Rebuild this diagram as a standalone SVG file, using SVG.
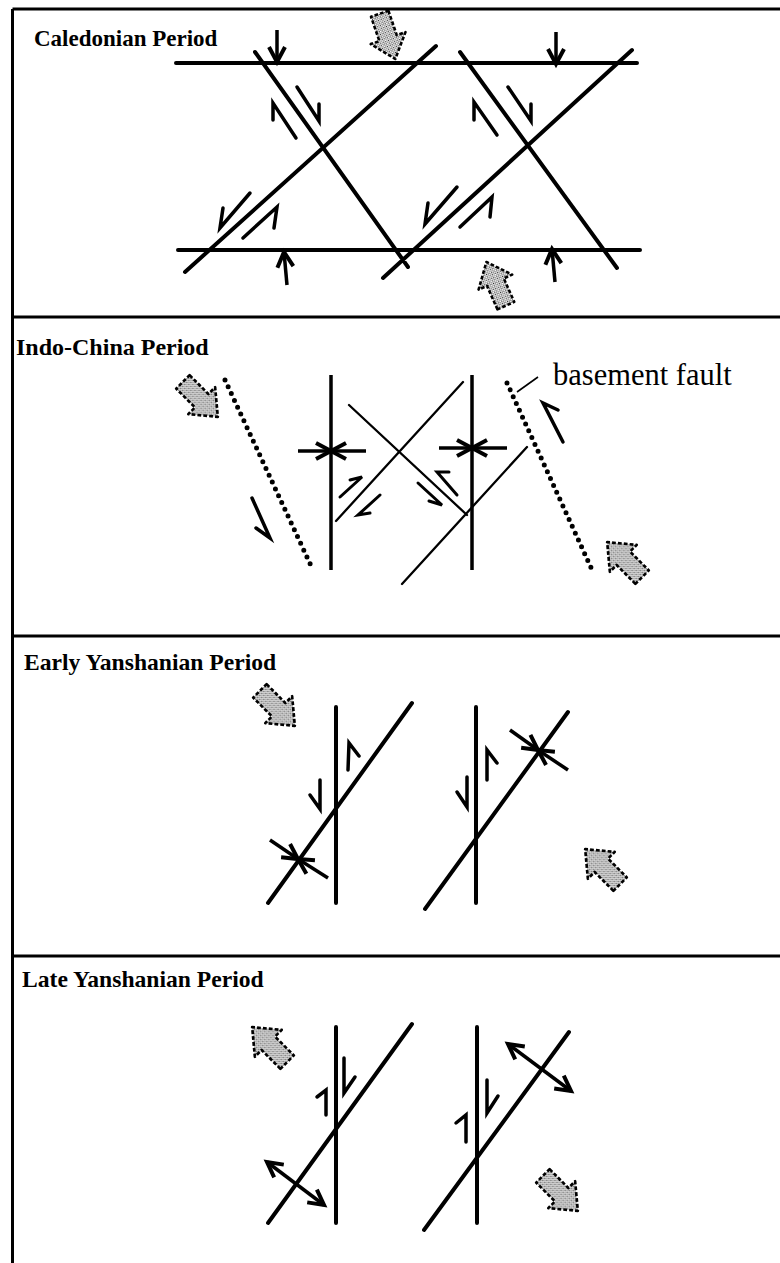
<svg xmlns="http://www.w3.org/2000/svg" xmlns:xlink="http://www.w3.org/1999/xlink" width="780" height="1263" viewBox="0 0 780 1263">
<style>
.frame{stroke:#000;stroke-width:3;fill:none}
.title{font-family:"Liberation Serif","Times New Roman",serif;font-weight:bold;font-size:23.6px;fill:#000}
.label{font-family:"Liberation Serif","Times New Roman",serif;font-size:30.5px;fill:#000}
.fault{stroke:#000;stroke-width:4;fill:none;stroke-linecap:round}
.vfault{stroke:#000;stroke-width:3.5;fill:none}
.thin{stroke:#000;stroke-width:2.3;fill:none;stroke-linecap:round}
.dotted{stroke:#000;stroke-width:5;fill:none;stroke-linecap:round;stroke-dasharray:0 7.5}
.half{stroke:#000;stroke-width:3.5;fill:none;stroke-linecap:round;stroke-linejoin:miter}
.comp{stroke:#000;stroke-width:3.5;fill:none;marker-end:url(#ah)}
.ext{stroke:#000;stroke-width:3.5;fill:none;marker-end:url(#ah);marker-start:url(#ah)}
.stip{fill:url(#dots);stroke:#000;stroke-width:2.8;stroke-dasharray:4 2.2;stroke-linejoin:round}
.leader{stroke:#000;stroke-width:1.6;fill:none}
</style>
<defs>
<pattern id="dots" width="3" height="3" patternUnits="userSpaceOnUse">
<rect width="3" height="3" fill="#fff"/>
<rect x="0" y="0" width="1.2" height="1.2" fill="#222"/>
<rect x="1.5" y="1.5" width="1.2" height="1.2" fill="#222"/>
</pattern>
<marker id="ah" markerUnits="userSpaceOnUse" markerWidth="30" markerHeight="30" viewBox="-20 -15 30 30" refX="0" refY="0" orient="auto-start-reverse" overflow="visible">
<path d="M-15,-8 L0,0 L-15,8" fill="none" stroke="#000" stroke-width="4"/>
</marker>
<path id="sa" d="M-21,-10 L7,-10 L7,-20 L31,0 L7,20 L7,10 L-21,10 Z"/>
</defs>
<rect width="780" height="1263" fill="#fff"/>

<g id="frame">
<path class="frame" d="M12.5,9 L780,9 M12.5,9 L12.5,1263 M12.5,317 L780,317 M12.5,636 L780,636 M12.5,956 L780,956"/>
</g>

<g id="panel-caledonian">
<text class="title" x="34" y="46" style="font-size:23px">Caledonian Period</text>
<g id="cal-faults">
<path class="fault" d="M176,63 L637,63 M178,250 L640,250 M255,52 L408,267 M436,46 L185,272 M460,52 L617,268 M632,50 L383,278"/>
</g>
<g id="cal-shear">
<path class="half" d="M297,87 L319,121 L319,104"/>
<path class="half" d="M296,138 L273,103 L273,120"/>
<path class="half" d="M508,87 L531,121 L531,104"/>
<path class="half" d="M497,135 L474,102 L474,120"/>
<path class="half" d="M250,193 L220,228 L223,208"/>
<path class="half" d="M243,238 L277,207 L274,228"/>
<path class="half" d="M457,187 L425,224 L428,203"/>
<path class="half" d="M460,227 L492,197 L490,217"/>
</g>
<g id="cal-compression">
<path class="comp" d="M277,30 L277,62"/>
<path class="comp" d="M556,32 L556,64"/>
<path class="comp" d="M287,285 L284,252"/>
<path class="comp" d="M555,282 L552,249"/>
</g>
<g id="cal-stress">
<use xlink:href="#sa" href="#sa" class="stip" transform="translate(386,32) rotate(71) scale(0.92)"/>
<use xlink:href="#sa" href="#sa" class="stip" transform="translate(498,288) rotate(-114) scale(0.92)"/>
</g>
</g>

<g id="panel-indochina">
<text class="title" x="16" y="355" style="font-size:24px">Indo-China Period</text>
<g id="ic-basement">
<path class="dotted" d="M225,380 L313,570 M507,383 L593,572"/>
<path class="leader" d="M517,392 L538,377"/>
<text class="label" x="553" y="385">basement fault</text>
<path class="half" d="M252,498 L270,538 L256,528"/>
<path class="half" d="M563,442 L543,403 L558,410"/>
</g>
<g id="ic-faults">
<path class="vfault" d="M331,375 L331,570 M472,375 L472,570"/>
<path class="thin" d="M349,405 L467,515 M463,382 L336,521 M527,447 L402,584"/>
</g>
<g id="ic-shear">
<path class="half" style="stroke-width:3" d="M340,497 L362,477 L350,480"/>
<path class="half" style="stroke-width:3" d="M380,495 L358,515 L370,513"/>
<path class="half" style="stroke-width:3" d="M457,495 L437,472 L449,472"/>
<path class="half" style="stroke-width:3" d="M418,483 L442,505 L429,501"/>
</g>
<g id="ic-compression">
<path class="comp" d="M298,451 L331,451"/>
<path class="comp" d="M366,451 L331,451"/>
<path class="comp" d="M439,448 L472,448"/>
<path class="comp" d="M507,448 L472,448"/>
</g>
<g id="ic-stress">
<use xlink:href="#sa" href="#sa" class="stip" transform="translate(197,396) rotate(45) scale(0.95)"/>
<use xlink:href="#sa" href="#sa" class="stip" transform="translate(628,563) rotate(-135) scale(0.95)"/>
</g>
</g>

<g id="panel-early-yanshanian">
<text class="title" x="24" y="670">Early Yanshanian Period</text>
<g id="ey-faults">
<path class="fault" d="M336,707 L336,903 M412,703 L268,903 M476,707 L476,903 M568,712 L425,909"/>
</g>
<g id="ey-shear">
<path class="half" d="M348,770 L349,743 L359,756"/>
<path class="half" d="M320,780 L320,809 L310,795"/>
<path class="half" d="M487,780 L487,750 L497,763"/>
<path class="half" d="M467,777 L467,807 L457,792"/>
</g>
<g id="ey-compression">
<path class="comp" d="M270,840 L298,859"/>
<path class="comp" d="M328,878 L298,859"/>
<path class="comp" d="M510,730 L538,750"/>
<path class="comp" d="M568,770 L538,750"/>
</g>
<g id="ey-stress">
<use xlink:href="#sa" href="#sa" class="stip" transform="translate(274,705) rotate(45) scale(0.95)"/>
<use xlink:href="#sa" href="#sa" class="stip" transform="translate(606,870) rotate(-135) scale(0.95)"/>
</g>
</g>

<g id="panel-late-yanshanian">
<text class="title" x="22" y="987">Late Yanshanian Period</text>
<g id="ly-faults">
<path class="fault" d="M336,1027 L336,1223 M412,1024 L268,1223 M477,1027 L477,1223 M569,1032 L424,1230"/>
</g>
<g id="ly-shear">
<path class="half" d="M326,1115 L326,1090 L317,1097"/>
<path class="half" d="M344,1058 L344,1093 L355,1077"/>
<path class="half" d="M466,1142 L466,1115 L456,1123"/>
<path class="half" d="M487,1080 L487,1113 L498,1096"/>
</g>
<g id="ly-extension">
<path class="ext" d="M267,1162 L324,1205"/>
<path class="ext" d="M508,1044 L571,1091"/>
</g>
<g id="ly-stress">
<use xlink:href="#sa" href="#sa" class="stip" transform="translate(273,1048) rotate(-135) scale(0.95)"/>
<use xlink:href="#sa" href="#sa" class="stip" transform="translate(557,1190) rotate(45) scale(0.95)"/>
</g>
</g>
</svg>
